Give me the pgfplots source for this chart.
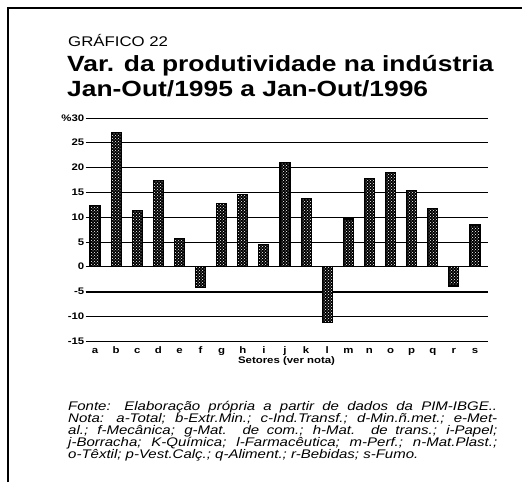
\documentclass[border=0pt]{standalone}
\usepackage{pgfplots}
\pgfplotsset{compat=1.18}
\usepackage{fontspec}
\setmainfont{Liberation Sans}
\newfontfamily\widefont[FakeStretch=1.2]{Liberation Sans}
\usetikzlibrary{patterns}
\pgfplotstableread{
x val
0 12.4
1 27.1
2 11.3
3 17.3
4 5.7
5 -4.2
6 12.8
7 14.5
8 4.4
9 21.0
10 13.7
11 -11.3
12 9.6
13 17.8
14 19.0
15 15.3
16 11.8
17 -3.9
18 8.4
}\dados
\begin{document}
\begin{tikzpicture}[x=1pt,y=1pt]
\useasboundingbox (0,0) rectangle (522,-482);
\draw[line width=1.8pt] (8,-482) -- (8,-8) -- (522,-8);
\node[anchor=base west,inner sep=0pt,font=\widefont\fontsize{14}{14}\selectfont] at (68,-46.7) {GRÁFICO 22};
\node[anchor=base west,inner sep=0pt,font=\widefont\fontsize{22}{22}\selectfont\bfseries] at (67,-71.7) {Var. da produtividade na indústria};
\node[anchor=base west,inner sep=0pt,font=\widefont\fontsize{22}{22}\selectfont\bfseries] at (67,-96.7) {Jan-Out/1995 a Jan-Out/1996};
\begin{axis}[
  anchor=origin, at={(95pt,-266.7pt)},
  x=21.11pt, y=4.96pt,
  xmin=-0.45, xmax=18.6, ymin=-15, ymax=30,
  axis line style={draw=none},
  major tick length=0pt,
  clip=false,
  ytick={-15,-10,...,30},
  yticklabels={-15,-10,-5,0,5,10,15,20,25,\%30},
  xtick={0,...,18},
  xticklabels={a,b,c,d,e,f,g,h,i,j,k,l,m,n,o,p,q,r,s},
  ymajorgrids,
  grid style={black, line width=0.7pt},
  extra y ticks={-5},
  extra y tick labels={},
  extra tick style={grid style={black, line width=2pt}},
  /pgf/number format/assume math mode=true,
  ticklabel style={font=\widefont\fontsize{9.5}{9.5}\selectfont\bfseries},
  yticklabel style={anchor=east, inner sep=0pt, xshift=-1pt},
  xticklabel style={anchor=base, inner sep=0pt, yshift=-12pt},
  xlabel={Setores (ver nota)},
  xlabel style={font=\widefont\fontsize{9.5}{9.5}\selectfont\bfseries, anchor=base, inner sep=0pt, at={(axis description cs:0.5,0)}, yshift=-22pt},
]
\addplot[ybar, bar width=10pt, fill=black, draw=black, line width=1.2pt,
  postaction={pattern=crosshatch dots, pattern color=white}] table[x=x,y=val]{\dados};
\end{axis}
\begin{scope}[font=\widefont\fontsize{12.5}{12.5}\selectfont\itshape]
\node[anchor=base west,inner sep=0pt] at (68,-410) {\makebox[429pt][s]{Fonte: Elaboração própria a partir de dados da PIM-IBGE..}};
\node[anchor=base west,inner sep=0pt] at (68,-422) {\makebox[429pt][s]{Nota: a-Total; b-Extr.Min.; c-Ind.Transf.; d-Min.ñ.met.; e-Met-}};
\node[anchor=base west,inner sep=0pt] at (68,-434) {\makebox[429pt][s]{al.; f-Mecânica; g-Mat. de com.; h-Mat. de trans.; i-Papel;}};
\node[anchor=base west,inner sep=0pt] at (68,-446) {\makebox[429pt][s]{j-Borracha; K-Química; l-Farmacêutica; m-Perf.; n-Mat.Plast.;}};
\node[anchor=base west,inner sep=0pt] at (68,-458) {o-Têxtil; p-Vest.Calç.; q-Aliment.; r-Bebidas; s-Fumo.};
\end{scope}
\end{tikzpicture}
\end{document}
